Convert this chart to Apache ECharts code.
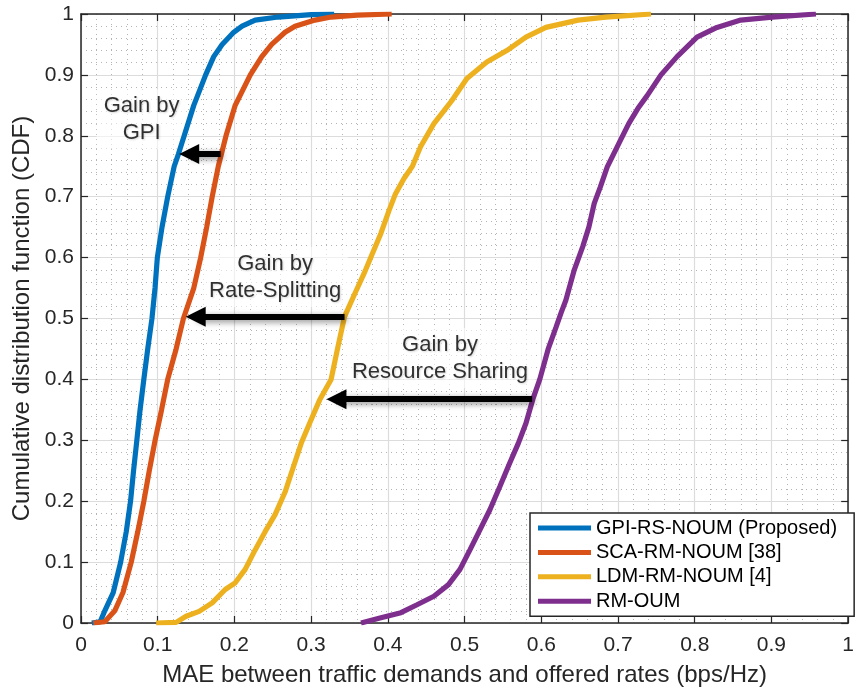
<!DOCTYPE html>
<html>
<head>
<meta charset="utf-8">
<script src="https://cdn.jsdelivr.net/npm/echarts@6/dist/echarts.min.js"></script>
<style>
  html, body { margin: 0; padding: 0; background: #fff; }
  #chart { width: 857px; height: 692px; }
</style>
</head>
<body>
<div id="chart"></div>
<script>
// Empirical CDFs of the MAE per scheme, as [MAE, CDF] pairs
const seriesNames = ['GPI-RS-NOUM (Proposed)', 'SCA-RM-NOUM [38]', 'LDM-RM-NOUM [4]', 'RM-OUM'];
const seriesColors = ['#0072BD', '#D95319', '#EDB120', '#7E2F8E'];

const gpiCdf = [
  [0.014, 0], [0.025, 0.002], [0.031, 0.02], [0.042, 0.05], [0.0517, 0.1], [0.059, 0.15],
  [0.0646, 0.2], [0.0685, 0.25], [0.0728, 0.3], [0.077, 0.35], [0.0819, 0.4], [0.087, 0.45],
  [0.0925, 0.5], [0.0965, 0.55], [0.0995, 0.6], [0.1056, 0.65], [0.113, 0.7], [0.1215, 0.75],
  [0.127, 0.77], [0.1345, 0.8], [0.147, 0.85], [0.1625, 0.9], [0.173, 0.93], [0.184, 0.95],
  [0.199, 0.97], [0.21, 0.98], [0.227, 0.99], [0.257, 0.995], [0.3, 0.999], [0.33, 1]
];
const scaCdf = [
  [0.016, 0], [0.031, 0.002], [0.044, 0.02], [0.0547, 0.05], [0.0655, 0.1], [0.074, 0.15],
  [0.0819, 0.2], [0.089, 0.25], [0.0966, 0.3], [0.105, 0.35], [0.113, 0.4], [0.124, 0.45],
  [0.1335, 0.5], [0.147, 0.55], [0.156, 0.6], [0.1638, 0.65], [0.171, 0.7], [0.179, 0.75],
  [0.183, 0.77], [0.189, 0.8], [0.201, 0.85], [0.2207, 0.9], [0.2357, 0.93], [0.2486, 0.95],
  [0.266, 0.97], [0.279, 0.98], [0.305, 0.99], [0.326, 0.995], [0.36, 0.998], [0.405, 1]
];
const ldmCdf = [
  [0.098, 0], [0.124, 0.001], [0.137, 0.011], [0.154, 0.019], [0.171, 0.033], [0.188, 0.055],
  [0.201, 0.066], [0.214, 0.088], [0.227, 0.12], [0.24, 0.15], [0.253, 0.178], [0.266, 0.215],
  [0.277, 0.257], [0.287, 0.295], [0.298, 0.328], [0.311, 0.366], [0.326, 0.4], [0.335, 0.454],
  [0.3435, 0.503], [0.357, 0.541], [0.369, 0.574], [0.38, 0.607], [0.391, 0.64], [0.4017, 0.678],
  [0.41, 0.705], [0.421, 0.73], [0.432, 0.75], [0.4426, 0.782], [0.46, 0.82], [0.473, 0.841],
  [0.4835, 0.858], [0.503, 0.894], [0.529, 0.921], [0.555, 0.94], [0.58, 0.962], [0.606, 0.978],
  [0.648, 0.99], [0.684, 0.995], [0.743, 1]
];
const rmCdf = [
  [0.365, 0], [0.391, 0.0085], [0.417, 0.017], [0.438, 0.03], [0.46, 0.044], [0.479, 0.063],
  [0.494, 0.088], [0.507, 0.12], [0.52, 0.153], [0.533, 0.186], [0.546, 0.224], [0.559, 0.263],
  [0.57, 0.295], [0.58, 0.328], [0.589, 0.3675], [0.598, 0.4], [0.609, 0.45], [0.619, 0.485],
  [0.626, 0.51], [0.632, 0.53], [0.643, 0.58], [0.654, 0.618], [0.662, 0.65], [0.669, 0.689],
  [0.677, 0.716], [0.686, 0.749], [0.701, 0.787], [0.714, 0.82], [0.727, 0.847], [0.738, 0.866],
  [0.756, 0.9], [0.777, 0.93], [0.803, 0.962], [0.829, 0.978], [0.86, 0.99], [0.901, 0.995],
  [0.958, 1]
];

// Annotation arrows: [tail, end of shaft] in data units (the head sits on the shaft end)
const arrowGpi = [[0.182, 0.77], [0.141, 0.77]];
const arrowRs = [[0.3435, 0.503], [0.1495, 0.503]];
const arrowShare = [[0.588, 0.3675], [0.333, 0.3675]];

// Annotation texts and their centres in data units
const noteTexts = ['Gain by\nGPI', 'Gain by\nRate-Splitting', 'Gain by\nResource Sharing'];
const noteX = [0.079, 0.253, 0.468];
const noteY = [0.827, 0.568, 0.435];

const xName = 'MAE between traffic demands and offered rates (bps/Hz)';
const yName = 'Cumulative distribution function (CDF)';

const FONT = '"Liberation Sans", Arial, Helvetica, sans-serif';
const INK = '#262626';

const chart = echarts.init(document.getElementById('chart'), null, { renderer: 'canvas' });

function mainAxis(extra) {
  return Object.assign({
    type: 'value', min: 0, max: 1, interval: 0.1,
    axisLine: { show: true, onZero: false, lineStyle: { color: INK, width: 1.5 } },
    axisTick: { show: true, inside: true, length: 7, lineStyle: { color: INK, width: 1.2 } },
    splitLine: { show: true, lineStyle: { color: '#dcdcdc', width: 1.2 } },
    minorTick: { show: false, splitNumber: 5 },
    minorSplitLine: { show: true, lineStyle: { color: '#b4b4b4', width: 1, type: [1, 4] } }
  }, extra);
}
function mirrorAxis(extra) {
  return Object.assign({
    type: 'value', min: 0, max: 1, interval: 0.1,
    axisLine: { show: true, onZero: false, lineStyle: { color: INK, width: 1.5 } },
    axisTick: { show: true, inside: true, length: 7, lineStyle: { color: INK, width: 1.2 } },
    axisLabel: { show: false },
    splitLine: { show: false }
  }, extra);
}

const curveSeries = [gpiCdf, scaCdf, ldmCdf, rmCdf].map((d, i) => ({
  name: seriesNames[i],
  type: 'line',
  data: d,
  showSymbol: false,
  symbol: 'none',
  lineStyle: { color: seriesColors[i], width: 5.2 },
  itemStyle: { color: seriesColors[i] },
  z: 3 + i
}));

const arrowSeries = {
  name: 'arrows',
  type: 'lines',
  coordinateSystem: 'cartesian2d',
  symbol: ['none', 'triangle'],
  symbolSize: [28, 20],
  lineStyle: {
    color: '#000', width: 6, opacity: 1,
    shadowBlur: 6, shadowColor: 'rgba(0,0,0,0.45)', shadowOffsetX: 2, shadowOffsetY: 2
  },
  data: [arrowGpi, arrowRs, arrowShare].map(a => ({ coords: a })),
  z: 10
};

// Text boxes sit beneath the curves so the lines stay fully saturated
const noteSeries = {
  name: 'notes',
  type: 'scatter',
  symbolSize: 0,
  data: noteTexts.map((t, i) => ({ value: [noteX[i], noteY[i]], text: t })),
  label: {
    show: true,
    position: 'inside',
    formatter: p => p.data.text,
    fontFamily: FONT,
    fontSize: 22,
    lineHeight: 27,
    color: '#000',
    align: 'center',
    verticalAlign: 'middle',
    backgroundColor: 'rgba(255,255,255,0.72)',
    padding: [3, 7],
    textShadowColor: 'rgba(0,0,0,0.2)',
    textShadowBlur: 2,
    textShadowOffsetX: 1,
    textShadowOffsetY: 1
  },
  z: 2
};

chart.setOption({
  animation: false,
  backgroundColor: '#fff',
  textStyle: { fontFamily: FONT },
  grid: { left: 81, right: 3, top: 14, bottom: 68.5, containLabel: false },
  legend: {
    data: seriesNames,
    orient: 'vertical',
    left: 530,
    top: 513,
    icon: 'rect',
    itemWidth: 53,
    itemHeight: 5,
    itemGap: 4.4,
    padding: [5, 17, 5, 8],
    backgroundColor: '#fff',
    borderColor: INK,
    borderWidth: 1.5,
    borderRadius: 0,
    textStyle: { fontFamily: FONT, fontSize: 20, color: '#000', lineHeight: 20 }
  },
  xAxis: [
    mainAxis({
      position: 'bottom',
      name: xName, nameLocation: 'middle', nameGap: 40,
      nameTextStyle: { fontFamily: FONT, fontSize: 24, color: INK },
      axisLabel: { color: INK, fontSize: 21, fontFamily: FONT, margin: 12 }
    }),
    mirrorAxis({ position: 'top' })
  ],
  yAxis: [
    mainAxis({
      position: 'left',
      name: yName, nameLocation: 'middle', nameGap: 41,
      nameTextStyle: { fontFamily: FONT, fontSize: 24, color: INK },
      axisLabel: { color: INK, fontSize: 21, fontFamily: FONT, margin: 7 }
    }),
    mirrorAxis({ position: 'right' })
  ],
  series: curveSeries.concat([arrowSeries, noteSeries])
});
</script>
</body>
</html>
